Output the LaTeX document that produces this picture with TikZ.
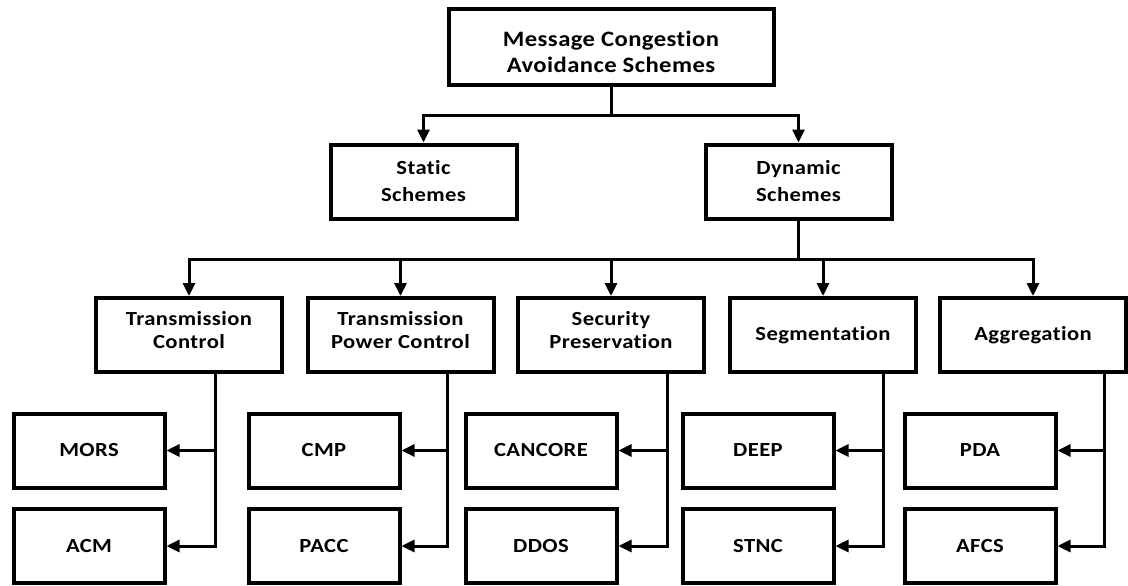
\documentclass[tikz,border=0pt]{standalone}
\usepackage{fontspec}
\setmainfont{Carlito}[FakeStretch=1.12,LetterSpace=2,RawFeature=-liga]
\usetikzlibrary{arrows.meta}
\tikzset{
  box/.style={draw, line width=4pt, align=center, inner sep=0pt,
    font=\fontsize{20}{23}\selectfont\bfseries\addfontfeature{FakeStretch=1.13}},
  bigbox/.style={box, minimum width=325pt, minimum height=76pt,
    font=\fontsize{22}{26}\selectfont\bfseries, text height=52pt, text depth=0pt},
  midbox/.style={box, minimum width=186pt, minimum height=74pt},
  leafbox/.style={box, minimum width=151pt, minimum height=74pt},
  twolines/.style={text height=26pt, text depth=0pt},
  schemebox/.style={midbox,
    font=\fontsize{20}{27}\selectfont\bfseries\addfontfeature{FakeStretch=1.13},
    text height=40pt, text depth=0pt},
  link/.style={line width=3pt, -{Triangle[length=13pt,width=12pt]}}
}
\begin{document}
\begin{tikzpicture}[x=1pt,y=-1pt]
\useasboundingbox (0,0) rectangle (1128,586);
\node[bigbox] (root) at (611,47) {Message Congestion\\Avoidance Schemes};
\node[schemebox] (static) at (423.5,181.5) {Static\\Schemes};
\node[schemebox] (dynamic) at (798.5,181.5) {Dynamic\\Schemes};
\node[midbox,twolines] (tc) at (189,335) {Transmission\\Control};
\node[midbox,twolines] (tpc) at (400.5,335) {Transmission\\Power Control};
\node[midbox,twolines] (sp) at (611,335) {Security\\Preservation};
\node[midbox] (seg) at (823,335) {Segmentation};
\node[midbox] (agg) at (1033,335) {Aggregation};
\node[leafbox] (mors) at (89,450.5) {MORS};
\node[leafbox] (acm) at (89,546) {ACM};
\node[leafbox] (cmp) at (324,450.5) {CMP};
\node[leafbox] (pacc) at (324,546) {PACC};
\node[leafbox] (cancore) at (541,450.5) {CANCORE};
\node[leafbox] (ddos) at (541,546) {DDOS};
\node[leafbox] (deep) at (758,450.5) {DEEP};
\node[leafbox] (stnc) at (758,546) {STNC};
\node[leafbox] (pda) at (980,450.5) {PDA};
\node[leafbox] (afcs) at (980,546) {AFCS};
\coordinate (split) at (611,115);
\coordinate (hub) at (798.5,259);
\foreach \n in {static,dynamic}
  \draw[link] (root.south) -- (split) -| (\n.north);
\draw[line width=3pt] (dynamic.south) -- (hub);
\foreach \n in {tc,tpc,sp,seg,agg}
  \draw[link] (hub) -| (\n.north);
\foreach \p/\a/\b/\s in {tc/mors/acm/26,tpc/cmp/pacc/46.5,sp/cancore/ddos/56,
    seg/deep/stnc/60,agg/pda/afcs/71}{
  \draw[link] ([xshift=\s pt]\p.south) |- (\a.east);
  \draw[link] ([xshift=\s pt]\p.south) |- (\b.east);
}
\end{tikzpicture}
\end{document}
